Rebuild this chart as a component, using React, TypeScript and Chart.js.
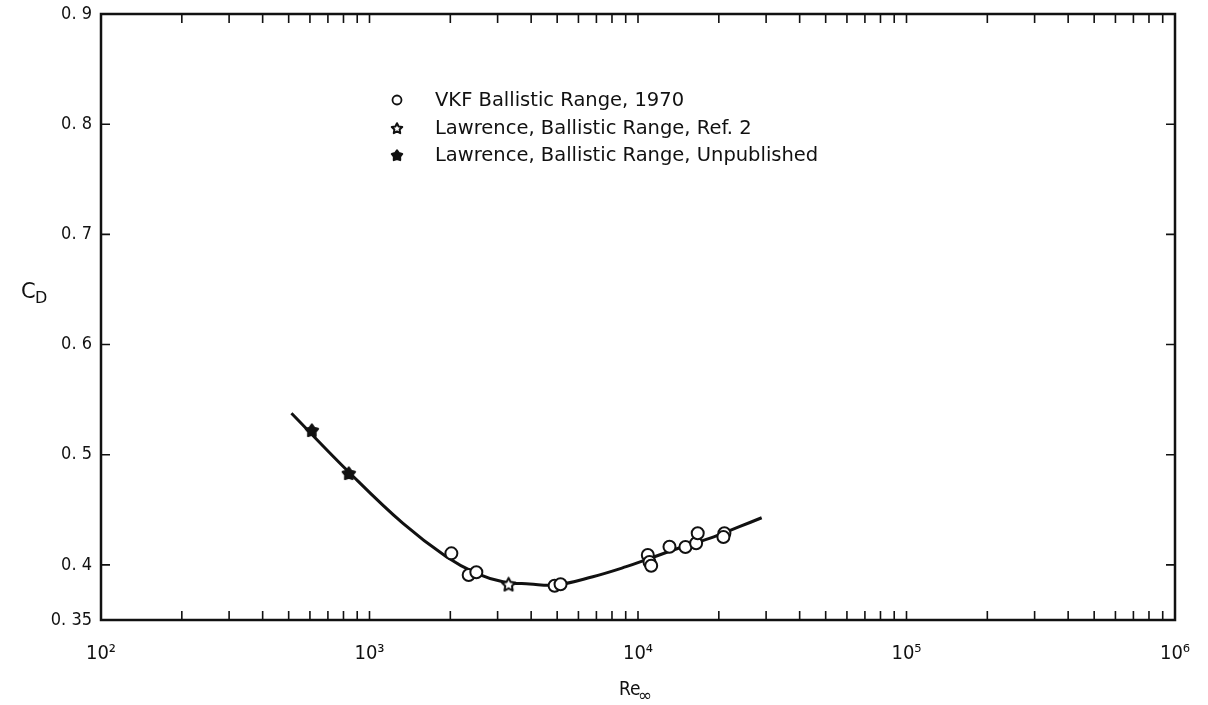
import React, { useEffect, useRef } from 'react';
import { Chart, registerables } from 'chart.js';

Chart.register(...registerables);

// ---- Data ----
const vkfRe = [2018, 2341, 2500, 4891, 5147, 10877, 11036, 11197, 13100, 15020, 16464, 16690, 20980, 20800];
const vkfCd = [0.4105, 0.3908, 0.3933, 0.3811, 0.3824, 0.409, 0.4026, 0.3993, 0.4165, 0.4162, 0.4196, 0.4287, 0.4287, 0.4253];

const lawRef2Re = [3297];
const lawRef2Cd = [0.3827];

const lawUnpubRe = [610, 837];
const lawUnpubCd = [0.5224, 0.4834];

const curveRe = [512, 837, 1333, 1933, 2500, 3141, 3948, 4962, 6788, 9039, 11036, 13875, 18450, 23860, 28880];
const curveCd = [0.5376, 0.4843, 0.4376, 0.4074, 0.3924, 0.3848, 0.3827, 0.3818, 0.3893, 0.3984, 0.4058, 0.4144, 0.4241, 0.4347, 0.4428];

const reTicks = [100, 1000, 10000, 100000, 1000000];
const reTickLabels = ['10²', '10³', '10⁴', '10⁵', '10⁶'];
const cdTicks = [0.35, 0.4, 0.5, 0.6, 0.7, 0.8, 0.9];
const cdTickLabels = ['0. 35', '0. 4', '0. 5', '0. 6', '0. 7', '0. 8', '0. 9'];
const cdInnerTicks = [0.4, 0.5, 0.6, 0.7, 0.8];

const legendLabels = [
  'VKF Ballistic Range, 1970',
  'Lawrence, Ballistic Range, Ref. 2',
  'Lawrence, Ballistic Range, Unpublished',
];

const FONT = '"DejaVu Sans", sans-serif';
const FONT_NARROW = '"DejaVu Sans Condensed", "DejaVu Sans", sans-serif';
const INK = '#111111';

function makeStar(filled: boolean, size: number): HTMLCanvasElement {
  const c = document.createElement('canvas');
  c.width = size;
  c.height = size;
  const ctx = c.getContext('2d')!;
  const cx = size / 2;
  const cy = size / 2 + size * 0.05;
  const R = size / 2 - 1.5;
  const r = R * (filled ? 0.6 : 0.5);
  ctx.beginPath();
  for (let i = 0; i < 10; i++) {
    const ang = -Math.PI / 2 + (i * Math.PI) / 5;
    const rad = i % 2 === 0 ? R : r;
    const px = cx + rad * Math.cos(ang);
    const py = cy + rad * Math.sin(ang);
    if (i === 0) ctx.moveTo(px, py);
    else ctx.lineTo(px, py);
  }
  ctx.closePath();
  ctx.lineJoin = 'round';
  ctx.fillStyle = filled ? INK : '#ffffff';
  ctx.fill();
  ctx.lineWidth = 2;
  ctx.strokeStyle = INK;
  ctx.stroke();
  return c;
}

export default function App() {
  const ref = useRef<HTMLCanvasElement | null>(null);

  useEffect(() => {
    if (!ref.current) return;
    const openStar = makeStar(false, 17);
    const filledStar = makeStar(true, 16);
    const openStarLegend = makeStar(false, 14);
    const filledStarLegend = makeStar(true, 14);

    const framePlugin = {
      id: 'frame',
      afterDraw(chart: any) {
        const { ctx, chartArea } = chart;
        const { left, right, top, bottom } = chartArea;
        const xs = chart.scales.x;
        const ys = chart.scales.y;
        ctx.save();
        ctx.strokeStyle = INK;
        ctx.lineWidth = 2.5;
        ctx.strokeRect(left, top, right - left, bottom - top);
        ctx.lineWidth = 1.6;
        const tl = 9;
        ctx.beginPath();
        for (let e = 2; e <= 5; e++) {
          for (let k = 1; k <= 9; k++) {
            if (e === 2 && k === 1) continue;
            const px = xs.getPixelForValue(k * Math.pow(10, e));
            ctx.moveTo(px, bottom);
            ctx.lineTo(px, bottom - tl);
            ctx.moveTo(px, top);
            ctx.lineTo(px, top + tl);
          }
        }
        cdInnerTicks.forEach((v) => {
          const py = ys.getPixelForValue(v);
          ctx.moveTo(left, py);
          ctx.lineTo(left + tl, py);
          ctx.moveTo(right, py);
          ctx.lineTo(right - tl, py);
        });
        ctx.stroke();

        // axis titles
        ctx.fillStyle = INK;
        ctx.textBaseline = 'alphabetic';
        ctx.textAlign = 'left';
        ctx.font = `21px ${FONT}`;
        ctx.fillText('C', 21, 298);
        ctx.font = `16px ${FONT}`;
        ctx.fillText('D', 35, 303);
        ctx.font = `19px ${FONT_NARROW}`;
        ctx.fillText('Re', 619, 695);
        ctx.font = `17px ${FONT}`;
        ctx.fillText('∞', 638, 701);

        // legend
        const lx = 397;
        const rows = [100, 128, 155];
        ctx.lineWidth = 1.8;
        ctx.beginPath();
        ctx.arc(lx, rows[0], 4.5, 0, Math.PI * 2);
        ctx.stroke();
        ctx.drawImage(openStarLegend, lx - 7, rows[1] - 7);
        ctx.drawImage(filledStarLegend, lx - 7, rows[2] - 7);
        ctx.font = `19.5px ${FONT}`;
        ctx.textBaseline = 'middle';
        legendLabels.forEach((t, i) => ctx.fillText(t, 435, rows[i] + 1));
        ctx.restore();
      },
    };

    const chart = new Chart(ref.current, {
      type: 'scatter',
      data: {
        datasets: [
          {
            label: legendLabels[0],
            data: vkfRe.map((x, i) => ({ x, y: vkfCd[i] })),
            pointStyle: 'circle',
            pointRadius: 6,
            pointBorderWidth: 2,
            pointBackgroundColor: '#ffffff',
            pointBorderColor: INK,
            order: 1,
          },
          {
            label: legendLabels[1],
            data: lawRef2Re.map((x, i) => ({ x, y: lawRef2Cd[i] })),
            pointStyle: openStar,
            pointRadius: 8,
            order: 1,
          },
          {
            label: legendLabels[2],
            data: lawUnpubRe.map((x, i) => ({ x, y: lawUnpubCd[i] })),
            pointStyle: filledStar,
            pointRadius: 8,
            order: 1,
          },
          {
            label: 'fit',
            data: curveRe.map((x, i) => ({ x, y: curveCd[i] })),
            showLine: true,
            borderColor: INK,
            borderWidth: 3,
            pointRadius: 0,
            tension: 0.4,
            fill: false,
            order: 5,
          },
        ],
      },
      options: {
        animation: false,
        responsive: false,
        layout: { padding: { top: 14, right: 33, left: 0, bottom: 0 } },
        plugins: { legend: { display: false }, tooltip: { enabled: false } },
        scales: {
          x: {
            type: 'logarithmic',
            min: 100,
            max: 1000000,
            grid: { display: false, drawTicks: false },
            border: { display: false },
            afterBuildTicks: (s: any) => {
              s.ticks = reTicks.map((v) => ({ value: v }));
            },
            afterFit: (s: any) => {
              s.height = 85;
              s.paddingLeft = 0;
              s.paddingRight = 0;
            },
            ticks: {
              autoSkip: false,
              maxRotation: 0,
              padding: 22,
              color: INK,
              font: { family: FONT_NARROW, size: 20 },
              callback: (_v: any, i: number) => reTickLabels[i],
            },
          },
          y: {
            type: 'linear',
            min: 0.35,
            max: 0.9,
            grid: { display: false, drawTicks: false },
            border: { display: false },
            afterBuildTicks: (s: any) => {
              s.ticks = cdTicks.map((v) => ({ value: v }));
            },
            afterFit: (s: any) => {
              s.width = 101;
              s.paddingTop = 0;
              s.paddingBottom = 0;
            },
            ticks: {
              autoSkip: false,
              padding: 9,
              color: INK,
              font: { family: FONT_NARROW, size: 18 },
              callback: (_v: any, i: number) => cdTickLabels[i],
            },
          },
        },
      },
      plugins: [framePlugin],
    } as any);

    return () => chart.destroy();
  }, []);

  return (
    <canvas
      ref={ref}
      width={1208}
      height={705}
      style={{ position: 'fixed', left: 0, top: 0, width: 1208, height: 705, display: 'block', background: '#fff' }}
    />
  );
}
